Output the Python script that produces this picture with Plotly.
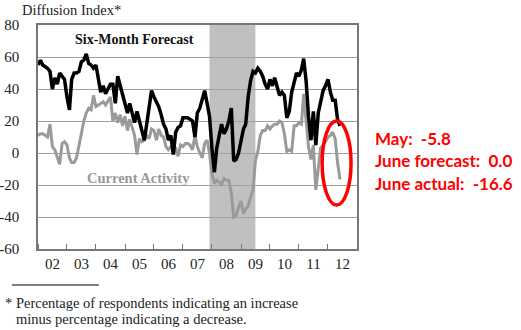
import pandas as pd
import plotly.graph_objects as go

# Monthly diffusion index values, Jan 2002 - Jun 2012
forecast = [
    55, 58, 55, 54, 53, 51, 40, 47, 43, 50, 48, 46,      # 2002
    35, 27, 46, 50, 50, 51, 57, 58, 62, 56, 55, 53,      # 2003
    55, 46, 38, 42, 37, 40, 43, 43, 31, 48, 42, 36,      # 2004
    30, 25, 31, 24, 19, 26, 20, 14, 8, 18, 30, 39,       # 2005
    35, 32, 29, 24, 18, 15, 8, 11, -1, 13, 16, 17,       # 2006
    22, 22, 22, 21, 20, 10, 25, 28, 33, 39, 31, 23,      # 2007
    3, -12, 3, 10, 18, 12, 15, 20, 28, -5, -4, 0,        # 2008
    8, 15, 18, 35, 45, 51, 50, 53, 51, 48, 43, 40,       # 2009
    46, 42, 47, 42, 36, 38, 36, 22, 26, 38, 45, 50,      # 2010
    48, 52, 59, 45, 23, 8, 26, 5, 25, 33, 39, 42,        # 2011
    46, 38, 33, 33, 21, 17,                              # 2012
]
current = [
    11, 12, 12, 11, 10, 18, 4, 2, -2, -7, 6, 7,          # 2002
    5, -3, -6, -6, -3, 6, 12, 20, 25, 28, 27, 36,        # 2003
    29, 30, 31, 32, 30, 33, 35, 20, 25, 19, 24, 17,      # 2004
    23, 14, 21, 16, 11, -1, 9, 7, 8, 11, 9, 15,          # 2005
    14, 8, 15, 11, 10, 4, 2, 4, 5, 3, -2, 5,             # 2006
    4, 6, 6, 5, 2, 11, 4, 0, -3, 6, 8, 0,                # 2007
    -13, -19, -17, -18, -20, -16, -17, -17, -25, -40, -39, -34,  # 2008
    -30, -38, -35, -33, -28, -23, -5, 1, 11, 14, 14, 17, # 2009
    15, 17, 18, 18, 20, 19, 12, 1, 2, 1, 17, 17,         # 2010
    19, 18, 37, 20, 4, -4, 5, -23, -8, 3, 5, 7,          # 2011
    10, 11, 13, 9, -5.8, -16.6,                          # 2012
]
start_month = "2002-01-01"
recession = ("2007-12-01", "2009-07-01")
x_range = ("2002-01-01", "2013-01-01")
y_ticks = [-60, -40, -20, 0, 20, 40, 60, 80]
y_tick_text = ["-60", "-40", "-20", "0", "20", "40", "60", "80"]
notes = ["May:\u00a0 -5.8", "June forecast:\u00a0 0.0", "June actual:\u00a0 -16.6"]

dates = pd.date_range(start=start_month, periods=len(current), freq="MS")

SERIF = "Liberation Serif"

fig = go.Figure()
fig.add_trace(go.Scatter(x=dates, y=current, mode="lines",
                         line=dict(color="#9a9a9a", width=3), showlegend=False))
fig.add_trace(go.Scatter(x=dates, y=forecast, mode="lines",
                         line=dict(color="#000000", width=3.5), showlegend=False))

fig.add_shape(type="rect", xref="x", yref="paper", x0=recession[0], x1=recession[1],
              y0=0, y1=1, fillcolor="#c0c0c0", line_width=0, layer="between")

# red ellipse around latest readings
fig.add_shape(type="circle", xref="x", yref="y",
              x0="2011-10-20", x1="2012-10-18", y0=-32.5, y1=20,
              line=dict(color="#ff0000", width=3.5), layer="above")

# footnote rule
fig.add_shape(type="line", xref="paper", yref="paper", x0=-0.0815, x1=0.191,
              y0=-0.1607, y1=-0.1607, line=dict(color="#000", width=1))

fig.update_layout(
    width=521, height=330,
    margin=dict(l=38, r=164, t=25, b=81, autoexpand=False),
    paper_bgcolor="white", plot_bgcolor="white",
    font=dict(family=SERIF, size=15, color="#222"),
    xaxis=dict(
        type="date", range=list(x_range), dtick="M12", tickformat="%y",
        ticklabelmode="period", ticks="inside", ticklen=5, tickcolor="#777",
        showgrid=False, showline=True, linecolor="#777", linewidth=1.5, mirror=True,
        automargin=False,
        tickfont=dict(family=SERIF, size=15, color="#222"),
    ),
    yaxis=dict(
        range=[-60, 80], tickvals=y_ticks, ticktext=y_tick_text,
        showgrid=True, gridcolor="#a0a0a0", gridwidth=1,
        showline=True, linecolor="#777", linewidth=1.5, mirror=True, zeroline=False,
        ticks="", ticklabelstandoff=14, automargin=False,
        tickfont=dict(family=SERIF, size=15, color="#222"),
    ),
)

ann = []
ann.append(dict(text="Diffusion Index*", x=-0.056, y=1.067, xref="paper", yref="paper",
                xanchor="left", yanchor="middle", showarrow=False,
                font=dict(family=SERIF, size=14.5, color="#222")))
ann.append(dict(text="<b>Six-Month Forecast</b>", x=0.304, y=0.9375, xref="paper", yref="paper",
                xanchor="center", yanchor="middle", showarrow=False,
                font=dict(family=SERIF, size=14, color="#111")))
ann.append(dict(text="<b>Current Activity</b>", x=0.3166, y=0.317, xref="paper", yref="paper",
                xanchor="center", yanchor="middle", showarrow=False,
                font=dict(family=SERIF, size=14.5, color="#999")))
for txt, yy in zip(notes, [0.4955, 0.393, 0.2946]):
    ann.append(dict(text="<b>" + txt + "</b>", x=1.050, y=yy, xref="paper", yref="paper",
                    xanchor="left", yanchor="middle", showarrow=False,
                    font=dict(family="Lato", size=17, color="#ff0000")))
ann.append(dict(text="* Percentage of respondents indicating an increase", x=-0.1097, y=-0.241,
                xref="paper", yref="paper", xanchor="left", yanchor="middle", showarrow=False,
                font=dict(family=SERIF, size=14.5, color="#222")))
ann.append(dict(text="minus percentage indicating a decrease.", x=-0.0752, y=-0.3125,
                xref="paper", yref="paper", xanchor="left", yanchor="middle", showarrow=False,
                font=dict(family=SERIF, size=14.5, color="#222")))
fig.update_layout(annotations=ann)

fig.write_html("out.html")
